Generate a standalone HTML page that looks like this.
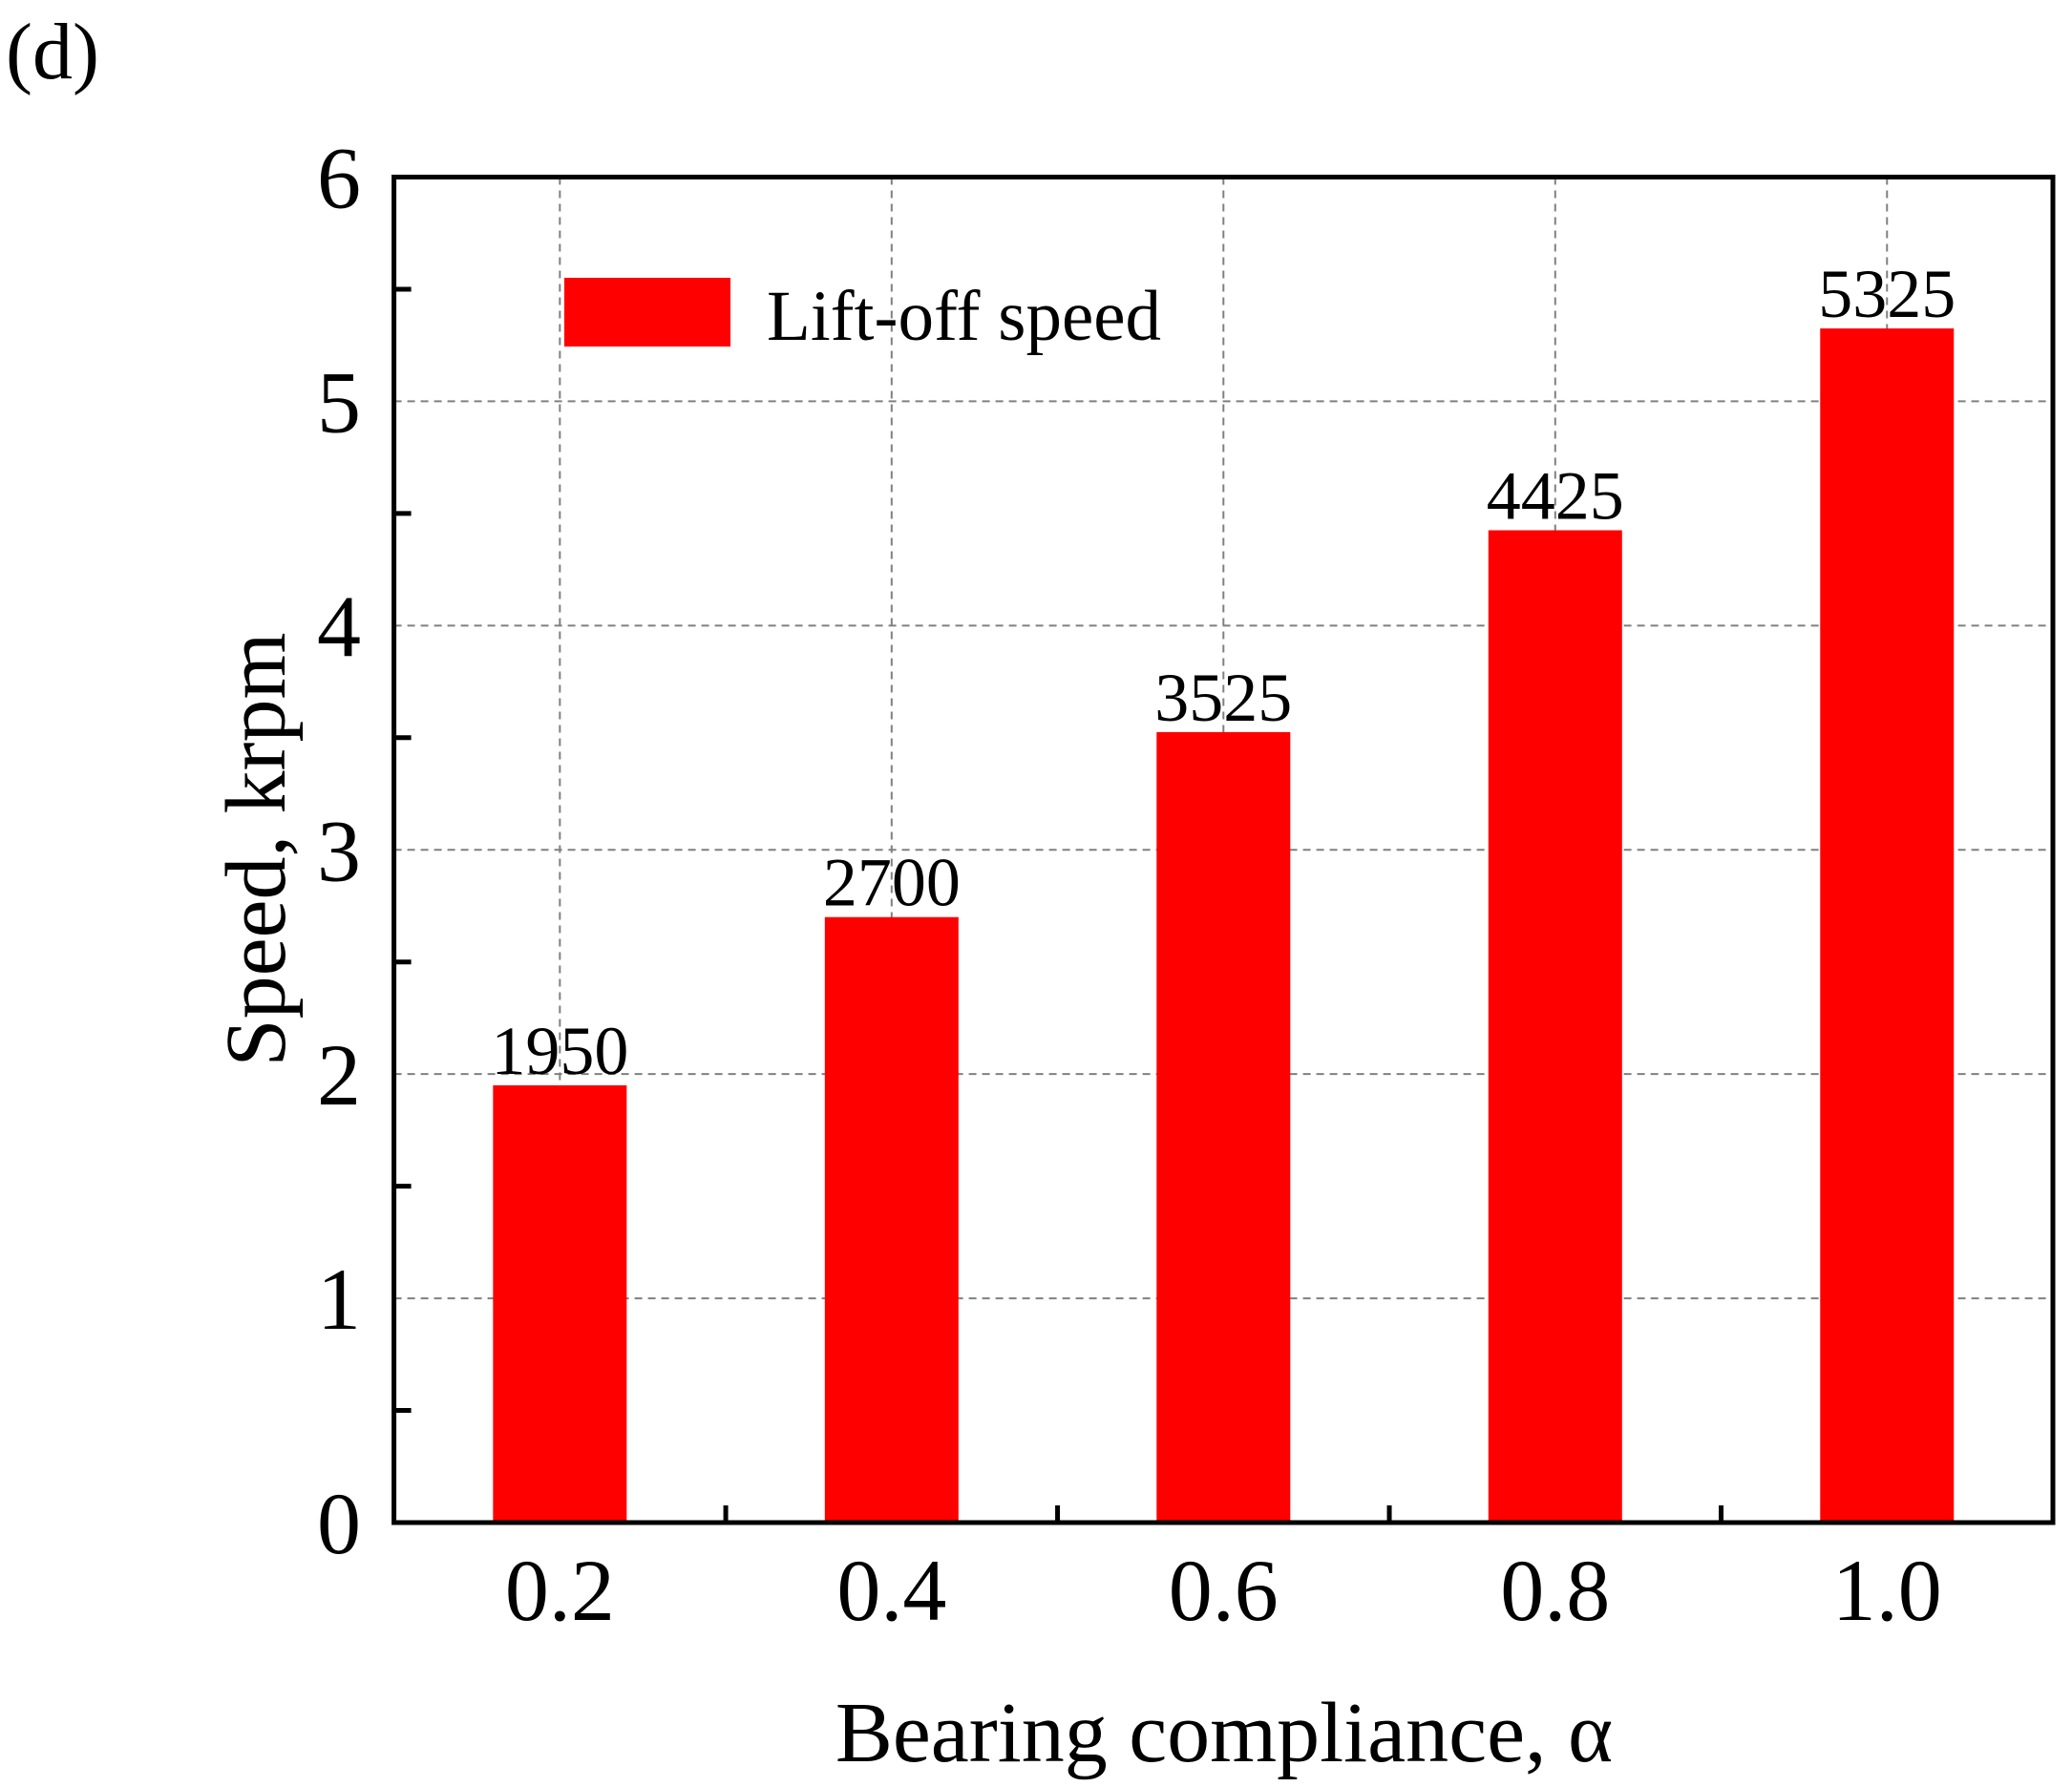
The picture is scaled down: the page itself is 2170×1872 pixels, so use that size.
<!DOCTYPE html>
<html><head><meta charset="utf-8"><style>
html,body{margin:0;padding:0;background:#fff;}
svg{display:block;font-family:"Liberation Serif",serif;}
</style></head><body>
<svg id="chart" width="2170" height="1872" viewBox="0 0 2170 1872" xmlns="http://www.w3.org/2000/svg">
<text x="6" y="82" font-size="84">(d)</text>
<g id="grid"></g><g id="bars"></g><g id="labels"></g><g id="axes"></g>
<rect x="591" y="291" width="174" height="72" fill="#ff0000"/>
<text x="803" y="356" font-size="75">Lift-off speed</text>
<text transform="translate(298,890) rotate(-90)" text-anchor="middle" font-size="90">Speed, krpm</text>
<text x="1282" y="1845" text-anchor="middle" font-size="90">Bearing compliance, α</text>
</svg>
<script>
const categories = ["0.2","0.4","0.6","0.8","1.0"];
const speeds = [1950, 2700, 3525, 4425, 5325];
const yTicks = [0,1,2,3,4,5,6];
const NS="http://www.w3.org/2000/svg";
const L=412.6,R=2150,T=185.5,B=1595;
const step=(R-L)/categories.length;
const xc=i=>L+step*(i+0.5);
const y=v=>B-(v/6)*(B-T);
function mk(tag,attrs,parent){const e=document.createElementNS(NS,tag);for(const k in attrs)e.setAttribute(k,attrs[k]);document.getElementById(parent).appendChild(e);return e;}
yTicks.forEach(t=>{
  if(t>0&&t<6){const g=mk('line',{x1:L,x2:R,y1:y(t),y2:y(t),stroke:'#808080','stroke-width':2,'stroke-dasharray':'8 6'},'grid');
  
  }
  const tx=mk('text',{x:378,y:y(t)+32,'text-anchor':'end','font-size':92},'axes');tx.textContent=t;
  
  
});
for(let h=0.5;h<6;h+=1){const m=mk('line',{x1:L,x2:L+18,y1:y(h),y2:y(h),stroke:'#000','stroke-width':5},'axes');
  
  }
categories.forEach((c,i)=>{
  const g=mk('line',{x1:xc(i),x2:xc(i),y1:T,y2:B,stroke:'#808080','stroke-width':2,'stroke-dasharray':'8 6'},'grid');
  
  
  const bw=140;
  const b=mk('rect',{x:xc(i)-bw/2,y:y(speeds[i]/1000),width:bw,height:B-y(speeds[i]/1000),fill:'#ff0000'},'bars');
  
  
  const vl=mk('text',{x:xc(i),y:y(speeds[i]/1000)-12,'text-anchor':'middle','font-size':72},'labels');vl.textContent=speeds[i];
  
  
  const tl=mk('text',{x:xc(i),y:1697,'text-anchor':'middle','font-size':92},'axes');tl.textContent=c;
  
  
  if(i>0){const m=mk('line',{x1:L+step*i,x2:L+step*i,y1:B,y2:B-18,stroke:'#000','stroke-width':5},'axes');
  
  }
});
const fr=mk('rect',{x:L,y:T,width:R-L,height:B-T,fill:'none',stroke:'#000','stroke-width':5},'axes');


</script>
</body></html>
